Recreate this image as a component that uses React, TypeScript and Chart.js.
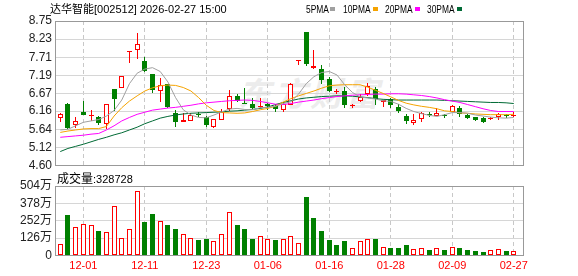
import React, { useEffect, useRef } from "react";
import { Chart, registerables } from "chart.js";

Chart.register(...registerables);

// ---------------- data ----------------
const DATES = ["11-26","11-27","11-28","12-01","12-02","12-03","12-04","12-05","12-08","12-09","12-10","12-11","12-12","12-15","12-16","12-17","12-18","12-19","12-22","12-23","12-24","12-25","12-26","12-29","12-30","12-31","01-05","01-06","01-07","01-08","01-09","01-12","01-13","01-14","01-15","01-16","01-19","01-20","01-21","01-22","01-23","01-26","01-27","01-28","01-29","01-30","02-02","02-03","02-04","02-05","02-06","02-09","02-10","02-11","02-12","02-13","02-24","02-25","02-26","02-27"];

const OPEN = [5.95,6.38,5.77,6.14,6.03,6.00,5.79,6.79,6.84,7.85, 7.91,7.59,7.22,6.74,6.93,6.12,5.86,5.89,6.07,6.00, 5.71,5.92,6.23,6.60,6.40,6.38,6.27,6.37,6.31,6.19, 6.35,7.60,8.43,7.41,7.37,7.08,6.71,6.73,6.30,6.44, 6.65,6.79,6.41,6.50,6.28,6.03,5.81,5.93,6.07,6.03, 6.06,6.14,6.25,6.05,5.98,5.95,5.93,5.98,6.05,6.03];
const HIGH = [6.11,6.39,5.98,6.44,6.19,6.02,6.37,6.80,7.17,7.88, 8.40,7.73,7.22,7.10,6.94,6.20,6.10,6.10,6.15,6.01, 5.93,6.22,6.76,6.65,6.82,6.55,6.55,6.40,6.36,6.41, 6.96,7.63,8.44,7.91,7.49,7.13,6.79,6.86,6.38,6.65, 6.98,6.86,6.49,6.53,6.38,6.08,6.07,6.14,6.15,6.24, 6.09,6.34,6.30,6.07,6.00,5.98,6.00,6.12,6.08,6.13];
const LOW = [5.84,5.66,5.67,6.04,5.87,5.77,5.66,6.17,6.83,7.53, 7.65,7.29,6.67,6.41,6.25,5.72,5.84,5.89,5.98,5.71, 5.69,5.91,6.17,6.41,6.36,6.22,6.25,6.19,6.14,6.13, 6.34,7.49,7.46,7.36,6.93,6.70,6.65,6.25,6.24,6.41, 6.60,6.34,6.28,6.26,6.10,5.79,5.77,5.86,5.98,6.02, 5.97,6.14,6.00,5.93,5.89,5.81,5.91,5.92,5.96,5.98];
const CLOSE = [6.07,5.67,5.87,6.06,6.06,5.81,6.36,6.51,7.16,7.88, 8.08,7.30,6.77,6.91,6.27,5.84,5.90,6.05,6.04,5.77, 5.93,6.14,6.60,6.44,6.37,6.25,6.30,6.31,6.22,6.36, 6.95,7.63,7.51,7.46,7.06,6.74,6.74,6.34,6.33,6.58, 6.87,6.51,6.48,6.34,6.17,5.88,5.90,6.12,6.04,6.10, 6.03,6.31,6.08,5.96,5.92,5.86,5.96,6.07,6.02,6.06];

const MA5 = [5.62,5.64,5.74,5.84,5.88,5.92,6.02,6.18,6.48,6.95, 7.25,7.37,7.41,7.30,7.00,6.55,6.20,6.05,5.98,5.97, 6.05,6.14,6.22,6.24,6.21,6.20,6.26,6.27,6.30,6.38, 6.43,6.65,6.95,7.15,7.27,7.30,7.20,6.92,6.70,6.57, 6.54,6.51,6.46,6.44,6.36,6.24,6.15,6.09,6.04,6.01, 6.06,6.12,6.12,6.10,6.05,6.02,5.99,5.97,5.96,5.98];
const MA10 = [5.55,5.59,5.62,5.65,5.66,5.66,5.72,6.02,6.26,6.45, 6.60,6.74,6.83,6.89,6.91,6.90,6.84,6.74,6.55,6.33, 6.18,6.12,6.11,6.10,6.11,6.15,6.20,6.24,6.30,6.42, 6.52,6.60,6.67,6.74,6.82,6.89,6.91,6.92,6.92,6.92, 6.85,6.76,6.67,6.57,6.47,6.39,6.34,6.30,6.27,6.23, 6.17,6.15,6.11,6.10,6.08,6.07,6.06,6.06,6.06,6.07];
const MA20 = [5.41,5.43,5.45,5.47,5.50,5.52,5.62,5.74,5.88,5.98, 6.07,6.13,6.19,6.22,6.25,6.27,6.30,6.33,6.37,6.40, 6.42,6.44,6.46,6.47,6.48,6.47,6.44,6.40,6.36,6.35, 6.38,6.42,6.45,6.48,6.52,6.55,6.58,6.60,6.62,6.63, 6.64,6.65,6.65,6.66,6.66,6.65,6.63,6.61,6.58,6.54, 6.49,6.45,6.41,6.35,6.29,6.23,6.18,6.15,6.15,6.15];
const MA30 = [5.00,5.09,5.15,5.21,5.28,5.35,5.41,5.48,5.54,5.62, 5.70,5.80,5.88,5.96,6.01,6.05,6.08,6.10,6.11,6.12, 6.13,6.14,6.16,6.17,6.19,6.21,6.24,6.28,6.35,6.41, 6.46,6.51,6.54,6.56,6.58,6.59,6.60,6.60,6.59,6.57, 6.55,6.52,6.50,6.49,6.48,6.48,6.48,6.48,6.48,6.48, 6.47,6.46,6.45,6.44,6.43,6.42,6.41,6.41,6.40,6.38];

// volume in 万
const VOLUME = [82,296,206,228,220,177,170,359,126,191, 468,242,303,250,220,191,155,126,111,119, 104,155,315,220,191,119,141,119,111,119, 141,90,426,271,177,111,75,104,53,104, 119,119,61,53,53,75,46,53,39,53, 39,61,53,39,31,24,39,46,31,32.87];
const VOL_UP = [1,0,1,1,1,0,1,1,1,1, 1,0,0,1,0,0,1,1,0,0, 1,1,1,0,0,0,1,1,0,1, 1,1,0,0,0,0,0,0,1,1, 1,0,1,0,0,0,1,1,0,1, 0,1,0,0,0,0,1,1,0,1];

const PRICE_TICKS = ["8.75","8.23","7.71","7.19","6.67","6.16","5.64","5.12","4.60"];
const VOL_TICKS = [504, 378, 252, 126, 0];
const VOL_TICK_LABELS = ["504万","378万","252万","126万","0"];
const X_TICK_LABELS = ["12-01","12-11","12-23","01-06","01-16","01-28","02-09","02-27"];

const TITLE = "达华智能[002512] 2026-02-27 15:00";
const VOL_TITLE = "成交量";
const LAST_VOLUME = "328728";
const MA_NAMES = ["5PMA", "10PMA", "20PMA", "30PMA"];

// ---------------- styles ----------------
const RED = "#ff0000";
const GREEN = "#008000";
const MA_COLORS = ["#a0a0a0", "#f5a300", "#ff00ff", "#006a35"];
const GRID = "#d6d6d6";
const VGRID = "#c8c8c8";
const BOX = "#999999";
const FONT = "'Liberation Sans', 'Noto Sans CJK SC', sans-serif";
const X_MIN = -0.685;
const X_MAX = 60.2;

const TICK_IDX = X_TICK_LABELS.map((d) => DATES.indexOf(d));

const boxPlugin = {
  id: "box",
  afterDraw(chart: any) {
    const { ctx, chartArea: a } = chart;
    ctx.save();
    ctx.strokeStyle = BOX;
    ctx.lineWidth = 1;
    const l = Math.floor(a.left) + 0.5;
    const t = Math.floor(a.top) + 0.5;
    const r = Math.floor(a.right) + 0.5;
    const b = Math.floor(a.bottom) + 0.5;
    ctx.strokeRect(l, t, r - l, b - t);
    ctx.restore();
  },
};

// snap bar elements to whole device pixels so 1px borders stay crisp
const snapPlugin = {
  id: "snap",
  beforeDatasetsDraw(chart: any) {
    chart.getSortedVisibleDatasetMetas().forEach((meta: any) => {
      if (meta.type !== "bar") return;
      meta.data.forEach((el: any) => {
        el.x = Math.round(el.x - 0.5) + 0.5;
        const ry = Math.round(el.y);
        let rb = Math.round(el.base);
        if (rb === ry) rb = ry + 1;
        el.y = ry;
        el.base = rb;
      });
    });
  },
};

function xScale(showLabels: boolean, height: number) {
  return {
    type: "linear",
    min: X_MIN,
    max: X_MAX,
    offset: false,
    afterBuildTicks: (s: any) => {
      s.ticks = TICK_IDX.map((v) => ({ value: v }));
    },
    afterFit: (s: any) => {
      s.height = height;
    },
    ticks: {
      display: showLabels,
      autoSkip: false,
      maxRotation: 0,
      padding: 4,
      color: RED,
      font: { family: FONT, size: 11 },
      callback: (_v: any, i: number) => X_TICK_LABELS[i],
    },
    grid: { color: VGRID, drawTicks: false, offset: false, lineWidth: 1 },
    border: { display: false, dash: [4, 3] },
  };
}

export default function App() {
  const priceRef = useRef<HTMLCanvasElement>(null);
  const volRef = useRef<HTMLCanvasElement>(null);

  useEffect(() => {
    const n = DATES.length;
    const idx = Array.from({ length: n }, (_, i) => i);
    const up = idx.map((i) => CLOSE[i] >= OPEN[i]);
    const candleColor = idx.map((i) => (up[i] ? RED : GREEN));
    const bodyFill = idx.map((i) =>
      !up[i] ? GREEN : Math.abs(CLOSE[i] - OPEN[i]) < 0.04 ? RED : "#ffffff"
    );

    const maSets = [MA5, MA10, MA20, MA30].map((arr, k) => ({
      type: "line",
      data: arr.map((y, i) => ({ x: i, y })),
      borderColor: MA_COLORS[k],
      borderWidth: 1,
      pointRadius: 0,
      tension: 0,
      order: 0,
    }));

    const priceChart = new Chart(priceRef.current as HTMLCanvasElement, {
      type: "bar",
      data: {
        datasets: [
          ...maSets,
          {
            type: "bar",
            data: idx.map((i) => ({ x: i, y: [OPEN[i], CLOSE[i]] })),
            backgroundColor: bodyFill,
            borderColor: candleColor,
            borderWidth: 1,
            borderSkipped: false,
            barThickness: 5,
            inflateAmount: 0,
            grouped: false,
            order: 1,
          },
          {
            type: "bar",
            data: idx.map((i) => ({ x: i, y: [LOW[i], HIGH[i]] })),
            backgroundColor: candleColor,
            borderWidth: 0,
            borderSkipped: false,
            barThickness: 1,
            inflateAmount: 0,
            grouped: false,
            order: 2,
          },
        ] as any,
      },
      options: {
        responsive: false,
        animation: false,
        events: [],
        layout: { padding: { top: 21, right: 55, bottom: 14.5, left: 0 } },
        plugins: { legend: { display: false }, tooltip: { enabled: false } },
        scales: {
          x: xScale(false, 0) as any,
          y: {
            type: "linear",
            min: 4.6,
            max: 8.75,
            afterBuildTicks: (s: any) => {
              s.ticks = PRICE_TICKS.map((t) => ({ value: parseFloat(t) }));
            },
            afterFit: (s: any) => {
              s.width = 55;
            },
            ticks: {
              autoSkip: false,
              padding: 3,
              color: "#222222",
              font: { family: FONT, size: 12 },
              callback: (_v: any, i: number) => PRICE_TICKS[i],
            },
            grid: { color: GRID, drawTicks: false },
            border: { display: false },
          } as any,
        },
      },
      plugins: [snapPlugin, boxPlugin],
    } as any);

    const volChart = new Chart(volRef.current as HTMLCanvasElement, {
      type: "bar",
      data: {
        datasets: [
          {
            data: VOLUME.map((v, i) => ({ x: i, y: v })),
            backgroundColor: VOL_UP.map((u) => (u ? "#ffffff" : GREEN)),
            borderColor: VOL_UP.map((u) => (u ? RED : GREEN)),
            borderWidth: 1,
            borderSkipped: false,
            barThickness: 5,
            inflateAmount: 0,
            grouped: false,
          },
        ] as any,
      },
      options: {
        responsive: false,
        animation: false,
        events: [],
        layout: { padding: { top: 16, right: 55, bottom: 0, left: 0 } },
        plugins: { legend: { display: false }, tooltip: { enabled: false } },
        scales: {
          x: xScale(true, 20.5) as any,
          y: {
            type: "linear",
            min: 0,
            max: 504,
            afterBuildTicks: (s: any) => {
              s.ticks = [...VOL_TICKS].reverse().map((v) => ({ value: v }));
            },
            afterFit: (s: any) => {
              s.width = 55;
            },
            ticks: {
              autoSkip: false,
              padding: 3,
              color: "#222222",
              font: { family: FONT, size: 12 },
              callback: (v: any) => VOL_TICK_LABELS[VOL_TICKS.indexOf(Number(v))],
            },
            grid: { color: GRID, drawTicks: false },
            border: { display: false },
          } as any,
        },
      },
      plugins: [snapPlugin, boxPlugin],
    } as any);

    return () => {
      priceChart.destroy();
      volChart.destroy();
    };
  }, []);

  const legendX = [306, 343, 385, 427];
  const squareX = [330, 373, 415, 457];

  return (
    <div
      style={{
        position: "absolute",
        left: 0,
        top: 0,
        width: 578,
        height: 276,
        background: "#ffffff",
        overflow: "hidden",
        fontFamily: FONT,
      }}
    >
      <div
        style={{
          position: "absolute",
          left: 238,
          top: 68,
          fontSize: 33,
          fontWeight: 700,
          fontStyle: "italic",
          color: "#ececec",
          letterSpacing: 3,
          whiteSpace: "nowrap",
          fontFamily: "'Noto Sans CJK SC', sans-serif",
        }}
      >
        东方财富
      </div>
      <canvas
        ref={priceRef}
        width={578}
        height={180}
        style={{ position: "absolute", left: 0, top: 0, width: 578, height: 180 }}
      />
      <canvas
        ref={volRef}
        width={578}
        height={106}
        style={{ position: "absolute", left: 0, top: 170, width: 578, height: 106 }}
      />
      <div
        style={{
          position: "absolute",
          left: 50,
          top: 2,
          fontSize: 11,
          lineHeight: "14px",
          color: "#000",
          whiteSpace: "nowrap",
        }}
      >
        {TITLE}
      </div>
      {MA_NAMES.map((name, k) => (
        <React.Fragment key={name}>
          <div
            style={{
              position: "absolute",
              left: legendX[k],
              top: 2,
              fontSize: 10.5,
              lineHeight: "14px",
              color: "#000",
              whiteSpace: "nowrap",
              transform: "scaleX(0.8)",
              transformOrigin: "left center",
            }}
          >
            {name}
          </div>
          <div
            style={{
              position: "absolute",
              left: squareX[k],
              top: 7,
              width: 5,
              height: 4,
              background: MA_COLORS[k],
            }}
          />
        </React.Fragment>
      ))}
      <div
        style={{
          position: "absolute",
          left: 57,
          top: 171,
          lineHeight: "14px",
          color: "#000",
          whiteSpace: "nowrap",
        }}
      >
        <span style={{ fontSize: 12 }}>{VOL_TITLE}</span>
        <span style={{ fontSize: 11 }}>:{LAST_VOLUME}</span>
      </div>
    </div>
  );
}
